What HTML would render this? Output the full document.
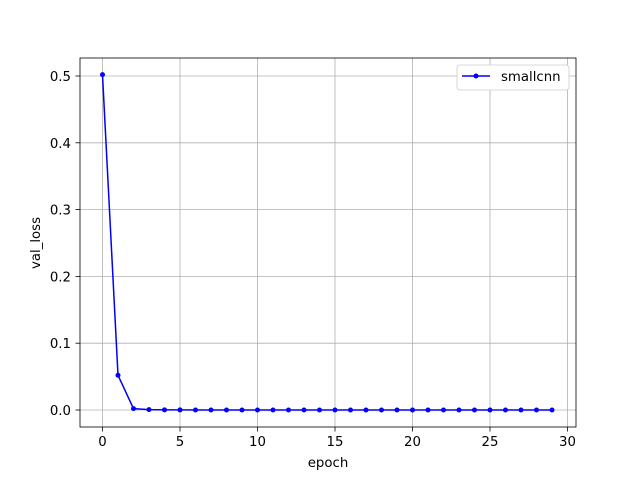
<!DOCTYPE html>
<html><head><meta charset="utf-8"><style>body{margin:0;background:#fff}svg{display:block}text{font-family:"DejaVu Sans","Liberation Sans",sans-serif;font-size:13.3px;fill:#000}</style></head>
<body>
<svg id="c" width="640" height="480"></svg>
<script>
const epochs=[0,1,2,3,4,5,6,7,8,9,10,11,12,13,14,15,16,17,18,19,20,21,22,23,24,25,26,27,28,29];
const valLoss=[0.502,0.052,0.002,0.0005,0.0002,0.0001,0,0,0,0,0,0,0,0,0,0,0,0,0,0,0,0,0,0,0,0,0,0,0,0];
const xTicks=[0,5,10,15,20,25,30];
const yTicks=[0.0,0.1,0.2,0.3,0.4,0.5];
const L=80,R=576,T=58,B=427;
const xs=v=>102.5+v*15.5;
const ys=v=>410-v*668;
const svg=document.getElementById('c');
const NS='http://www.w3.org/2000/svg';
function mk(t,a,p){const e=document.createElementNS(NS,t);for(const k in a)e.setAttribute(k,a[k]);(p||svg).appendChild(e);return e;}
xTicks.forEach(t=>{const x=xs(t);
const g=mk('line',{x1:x,x2:x,y1:T,y2:B,stroke:'#b0b0b0','stroke-width':0.8});


mk('line',{x1:x,x2:x,y1:B,y2:B+4.5,stroke:'#000','stroke-width':0.8});
const tx=mk('text',{x:x,y:B+19,'text-anchor':'middle'});tx.textContent=t;

});
yTicks.forEach(t=>{const y=ys(t);
const g=mk('line',{x1:L,x2:R,y1:y,y2:y,stroke:'#b0b0b0','stroke-width':0.8});


mk('line',{x1:L-4.5,x2:L,y1:y,y2:y,stroke:'#000','stroke-width':0.8});
const tx=mk('text',{x:L-9,y:y+5,'text-anchor':'end'});tx.textContent=t.toFixed(1);

});
const fr=mk('rect',{x:L,y:T,width:R-L,height:B-T,fill:'none',stroke:'#000','stroke-width':0.8});


const pl=mk('polyline',{points:epochs.map((e,i)=>xs(e)+','+ys(valLoss[i])).join(' '),fill:'none',stroke:'#0000ff','stroke-width':1.5});


epochs.forEach((e,i)=>{const c=mk('circle',{cx:xs(e),cy:ys(valLoss[i]),r:2.5,fill:'#0000ff'});

});
const xl=mk('text',{x:328,y:467,'text-anchor':'middle'});xl.textContent='epoch';


const yl=mk('text',{x:0,y:0,'text-anchor':'middle',transform:'translate(40,243) rotate(-90)'});yl.textContent='val_loss';


const lg=mk('g',{});


mk('rect',{x:457,y:65,width:112,height:25,rx:3,fill:'#fff',stroke:'#ccc','stroke-width':0.8},lg);
mk('line',{x1:462,x2:490,y1:76,y2:76,stroke:'#0000ff','stroke-width':1.5},lg);
mk('circle',{cx:476,cy:76,r:2.5,fill:'#0000ff'},lg);
const lt=mk('text',{x:501,y:81},lg);lt.textContent='smallcnn';


</script>
</body></html>
